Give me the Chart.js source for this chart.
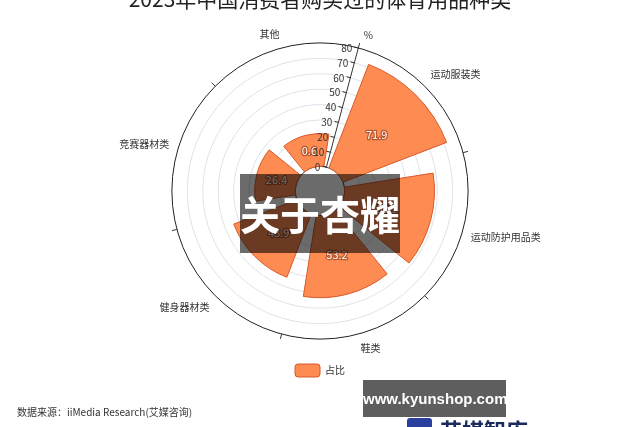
<!DOCTYPE html>
<html>
<head>
<meta charset="utf-8">
<script src="https://cdn.jsdelivr.net/npm/chart.js@4/dist/chart.umd.min.js"></script>
<style>
  body { margin: 0; width: 640px; height: 427px; overflow: hidden; background: #fff; position: relative; font-family: "Noto Sans CJK SC", "Noto Sans", sans-serif; }
  #wrap { position: absolute; left: 0; top: -14px; width: 640px; height: 441px; }
  .src { position: absolute; left: 17px; top: 404px; font-size: 10px; color: #333; white-space: nowrap; }
  .wm { position: absolute; left: 240px; top: 174px; width: 160px; height: 79px; background: rgba(0,0,0,0.58); color: #fff; font-size: 40px; font-weight: bold; line-height: 79px; text-align: center; white-space: nowrap; }
  .site { position: absolute; left: 363px; top: 380px; width: 143px; height: 37px; background: rgba(80,80,80,0.92); color: #fff; font: bold 15px "Liberation Sans", sans-serif; line-height: 37px; text-align: center; white-space: nowrap; }
  .icon { position: absolute; left: 407px; top: 418px; width: 25px; height: 20px; border-radius: 3px; background: #2b3f9e; }
  .logo { position: absolute; left: 440px; top: 413px; font-size: 22px; font-weight: bold; color: #1b2a5c; white-space: nowrap; }
</style>
</head>
<body>
<div id="wrap"><canvas id="chart"></canvas></div>
<div class="src">数据来源：iiMedia Research(艾媒咨询)</div>
<div class="wm">关于杏耀</div>
<div class="site">www.kyunshop.com</div>
<div class="icon"></div>
<div class="logo">艾媒智库</div>
<script>
// 数据
const titleText = '2023年中国消费者购买过的体育用品种类';
const categories = ['运动服装类', '运动防护用品类', '鞋类', '健身器材类', '竞赛器材类', '其他'];
const shares = [71.9, 58.2, 53.2, 43.9, 26.4, 21.3];
const valueLabels = ['71.9', '58.2', '53.2', '43.9', '26.4', '0.6'];
const seriesName = '占比';
const radiusTicks = [0, 10, 20, 30, 40, 50, 60, 70, 80];
const unitName = '%';

const FONT = '"Noto Sans CJK SC", "Noto Sans", sans-serif';
const BAR = '#fd8b52';
const BAR_BORDER = '#d9592a';

// 极坐标柱状：缩窄扇区并留出中心空洞
const polarBar = {
  id: 'polarBar',
  afterDatasetUpdate(chart, args) {
    const s = chart.scales.r;
    const inner = s.getDistanceFromCenterForValue(0);
    args.meta.data.forEach(arc => {
      const mid = (arc.startAngle + arc.endAngle) / 2;
      const half = (arc.endAngle - arc.startAngle) / 2 * 0.8;
      arc.startAngle = mid - half;
      arc.endAngle = mid + half;
      arc.innerRadius = inner;
    });
  },
  beforeDatasetsDraw(chart) {
    const s = chart.scales.r, ctx = chart.ctx;
    const r0 = s.getDistanceFromCenterForValue(0);
    const R = s.getDistanceFromCenterForValue(radiusTicks[radiusTicks.length - 1]);
    ctx.save();
    ctx.beginPath();
    ctx.arc(s.xCenter, s.yCenter, r0, 0, Math.PI * 2);
    ctx.fillStyle = '#fff';
    ctx.fill();
    ctx.strokeStyle = '#333';
    ctx.lineWidth = 1;
    ctx.stroke();
    // 角度轴刻度
    categories.forEach((c, i) => {
      const a = s.getPointPosition(i, R);
      const b = s.getPointPosition(i, R + 5);
      ctx.beginPath();
      ctx.moveTo(a.x, a.y);
      ctx.lineTo(b.x, b.y);
      ctx.stroke();
    });
    ctx.restore();
  },
  afterDatasetsDraw(chart) {
    const s = chart.scales.r, ctx = chart.ctx;
    ctx.save();
    // 数值标签
    ctx.font = '11px ' + FONT;
    ctx.textAlign = 'center';
    ctx.textBaseline = 'middle';
    ctx.lineJoin = 'round';
    chart.getDatasetMeta(0).data.forEach((arc, i) => {
      const p = arc.getCenterPoint();
      ctx.lineWidth = 2.5;
      ctx.strokeStyle = '#b8562c';
      ctx.strokeText(valueLabels[i], p.x, p.y);
      ctx.fillStyle = '#fff';
      ctx.fillText(valueLabels[i], p.x, p.y);
    });
    // 径向轴
    const r0 = s.getDistanceFromCenterForValue(0);
    const R = s.getDistanceFromCenterForValue(radiusTicks[radiusTicks.length - 1]);
    const a = s.getPointPosition(0, r0), b = s.getPointPosition(0, R);
    const ang = a.angle;
    const nx = Math.sin(ang), ny = -Math.cos(ang);
    ctx.strokeStyle = '#333';
    ctx.lineWidth = 1;
    ctx.beginPath();
    ctx.moveTo(a.x, a.y);
    ctx.lineTo(b.x, b.y);
    ctx.stroke();
    ctx.font = '10px ' + FONT;
    ctx.fillStyle = '#333';
    ctx.textAlign = 'right';
    radiusTicks.forEach(v => {
      const p = s.getPointPosition(0, s.getDistanceFromCenterForValue(v));
      ctx.beginPath();
      ctx.moveTo(p.x, p.y);
      ctx.lineTo(p.x + nx * 4, p.y + ny * 4);
      ctx.stroke();
      ctx.fillText(String(v), p.x - 6, p.y);
    });
    const u = s.getPointPosition(0, R + 12);
    ctx.textAlign = 'center';
    ctx.fillText(unitName, u.x + 7, u.y - 1);
    ctx.restore();
  }
};

new Chart(document.getElementById('chart'), {
  type: 'polarArea',
  data: {
    labels: categories,
    datasets: [{
      label: seriesName,
      data: shares,
      backgroundColor: BAR,
      borderColor: BAR_BORDER,
      borderWidth: 1
    }]
  },
  options: {
    responsive: true,
    maintainAspectRatio: false,
    animation: false,
    events: [],
    layout: { padding: { top: 0, bottom: 40, left: 0, right: 0 } },
    scales: {
      r: {
        min: -16,
        max: 80,
        startAngle: 15,
        ticks: { stepSize: 10, display: false },
        grid: {
          circular: true,
          lineWidth: 1,
          color: ctx => {
            const v = ctx.tick.value;
            if (v === 80) return '#222';
            return v > 0 ? '#dde2ea' : 'transparent';
          }
        },
        angleLines: { display: false },
        pointLabels: {
          display: true,
          centerPointLabels: true,
          padding: 8,
          color: '#333',
          font: { size: 10, family: FONT }
        }
      }
    },
    plugins: {
      title: {
        display: true,
        text: titleText,
        color: '#222',
        padding: { top: 0, bottom: 17 },
        font: { size: 21, weight: 'normal', family: FONT }
      },
      legend: {
        position: 'bottom',
        labels: {
          boxWidth: 25,
          boxHeight: 13,
          useBorderRadius: true,
          borderRadius: 3,
          color: '#333',
          font: { size: 10, family: FONT },
          generateLabels: () => [{
            text: seriesName,
            fillStyle: BAR,
            strokeStyle: BAR_BORDER,
            lineWidth: 1,
            borderRadius: 3,
            fontColor: '#333'
          }]
        }
      },
      tooltip: { enabled: false }
    }
  },
  plugins: [polarBar]
});
</script>
</body>
</html>
